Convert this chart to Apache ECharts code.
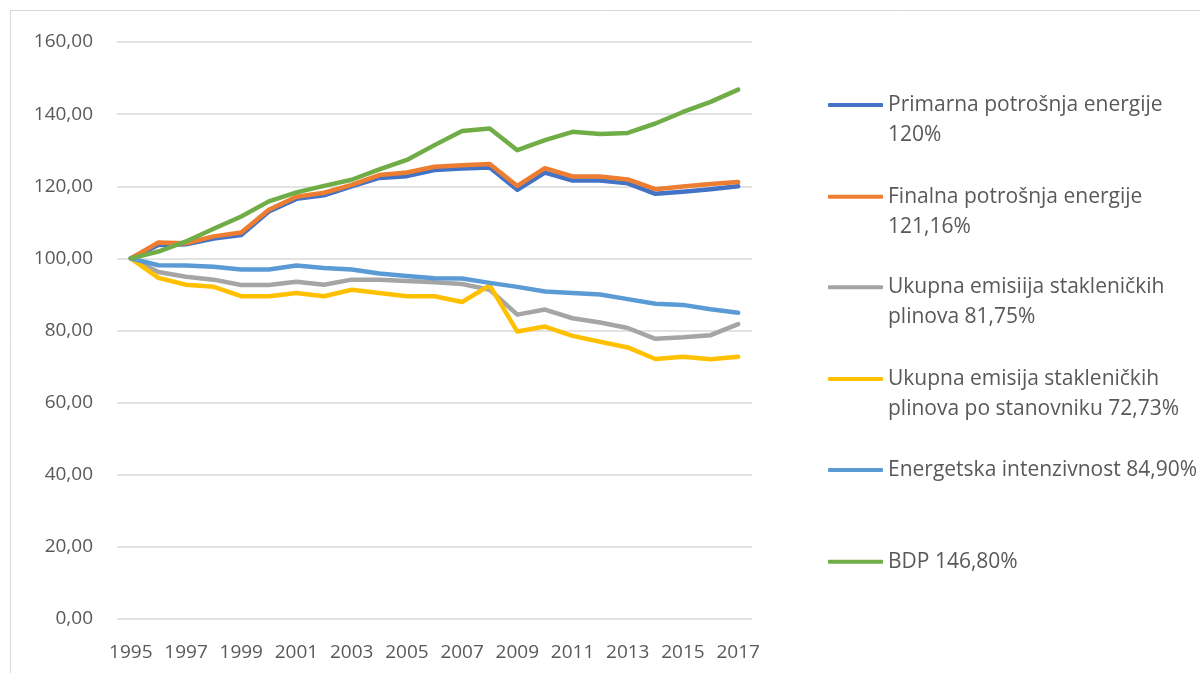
<!DOCTYPE html>
<html>
<head>
<meta charset="utf-8">
<script src="https://cdn.jsdelivr.net/npm/echarts@6/dist/echarts.min.js"></script>
<style>
html,body{margin:0;padding:0;background:#fff;}
#chart{width:1200px;height:673px;}
</style>
</head>
<body>
<div id="chart"></div>
<script>
const years = ['1995','1996','1997','1998','1999','2000','2001','2002','2003','2004','2005','2006','2007','2008','2009','2010','2011','2012','2013','2014','2015','2016','2017'];
const yTicks = [0, 20, 40, 60, 80, 100, 120, 140, 160];
const seriesNames = [
  'Primarna potrošnja energije\n120%',
  'Finalna potrošnja energije\n121,16%',
  'Ukupna emisiija stakleničkih\nplinova 81,75%',
  'Ukupna emisija stakleničkih\nplinova po stanovniku 72,73%',
  'Energetska intenzivnost 84,90%',
  'BDP 146,80%'
];
const primarna = [100, 103.7, 103.9, 105.5, 106.5, 113.0, 116.5, 117.5, 120.0, 122.3, 122.8, 124.5, 124.9, 125.2, 119.0, 123.8, 121.6, 121.6, 120.8, 117.9, 118.5, 119.2, 120.0];
const finalna = [100, 104.4, 104.2, 106.1, 107.2, 113.5, 117.1, 118.2, 120.4, 123.1, 123.8, 125.4, 125.8, 126.2, 120.1, 125.0, 122.7, 122.7, 121.9, 119.2, 119.9, 120.6, 121.16];
const ukupnaEmisija = [100, 96.2, 94.9, 94.1, 92.6, 92.6, 93.5, 92.7, 94.1, 94.1, 93.7, 93.4, 92.9, 91.3, 84.4, 85.8, 83.4, 82.2, 80.7, 77.7, 78.1, 78.7, 81.75];
const emisijaPoStanovniku = [100, 94.6, 92.7, 92.1, 89.5, 89.5, 90.4, 89.5, 91.3, 90.4, 89.5, 89.5, 87.9, 92.5, 79.7, 81.1, 78.5, 76.9, 75.3, 72.1, 72.7, 72.0, 72.73];
const energetska = [100, 98.1, 98.0, 97.7, 96.9, 96.9, 98.0, 97.3, 96.9, 95.8, 95.1, 94.5, 94.4, 93.2, 92.1, 90.8, 90.4, 90.0, 88.7, 87.4, 87.1, 85.9, 84.9];
const bdp = [100, 101.9, 104.7, 108.2, 111.6, 115.8, 118.3, 120.1, 121.8, 124.7, 127.3, 131.4, 135.3, 136.0, 130.0, 132.8, 135.1, 134.5, 134.8, 137.4, 140.6, 143.4, 146.8];

const seriesData = [primarna, finalna, ukupnaEmisija, emisijaPoStanovniku, energetska, bdp];
const colors = ['#4472C4', '#ED7D31', '#A5A5A5', '#FFC000', '#5B9BD5', '#70AD47'];
const legendCenters = [105, 196.7, 287.3, 379, 470, 561.7];
const FONT = 'Open Sans';
const FS = 19;
const LFS = 21;
const LH = 30;

const chart = echarts.init(document.getElementById('chart'), null, {renderer: 'canvas'});

const legends = seriesNames.map((name, i) => {
  const twoLine = name.indexOf('\n') >= 0;
  return {
    orient: 'vertical',
    left: 828,
    top: legendCenters[i] - (twoLine ? 45 : 15),
    padding: 0,
    itemWidth: 55,
    itemHeight: 4,
    icon: 'roundRect',
    data: [name],
    selectedMode: false,
    formatter: n => (twoLine ? '\n' + n : n),
    textStyle: {
      fontFamily: FONT,
      fontSize: LFS,
      color: '#595959',
      lineHeight: LH
    }
  };
});

const option = {
  backgroundColor: '#ffffff',
  animation: false,
  color: colors,
  grid: {left: 117, right: 448, top: 42, bottom: 54, containLabel: false},
  legend: legends,
  xAxis: {
    type: 'category',
    data: years,
    boundaryGap: true,
    axisLine: {show: false},
    axisTick: {show: false},
    axisLabel: {
      interval: 1,
      margin: 24,
      fontFamily: FONT,
      fontSize: FS,
      color: '#595959'
    },
    splitLine: {show: false}
  },
  yAxis: {
    type: 'value',
    min: yTicks[0],
    max: yTicks[yTicks.length - 1],
    interval: 20,
    axisLine: {show: false},
    axisTick: {show: false},
    axisLabel: {
      margin: 24,
      fontFamily: FONT,
      fontSize: FS,
      color: '#595959',
      formatter: v => v.toFixed(2).replace('.', ',')
    },
    splitLine: {lineStyle: {color: '#d9d9d9', width: 1.5}}
  },
  graphic: [{
    type: 'rect',
    silent: true,
    shape: {x: 10.5, y: 10.5, width: 1200, height: 700},
    style: {fill: 'none', stroke: '#d9d9d9', lineWidth: 1}
  }],
  series: seriesNames.map((name, i) => ({
    name: name,
    type: 'line',
    data: seriesData[i],
    symbol: 'none',
    smooth: false,
    lineStyle: {width: 4.5, color: colors[i], cap: 'round', join: 'round'},
    itemStyle: {color: colors[i]},
    z: 2 + i
  }))
};
chart.setOption(option);
</script>
</body>
</html>
